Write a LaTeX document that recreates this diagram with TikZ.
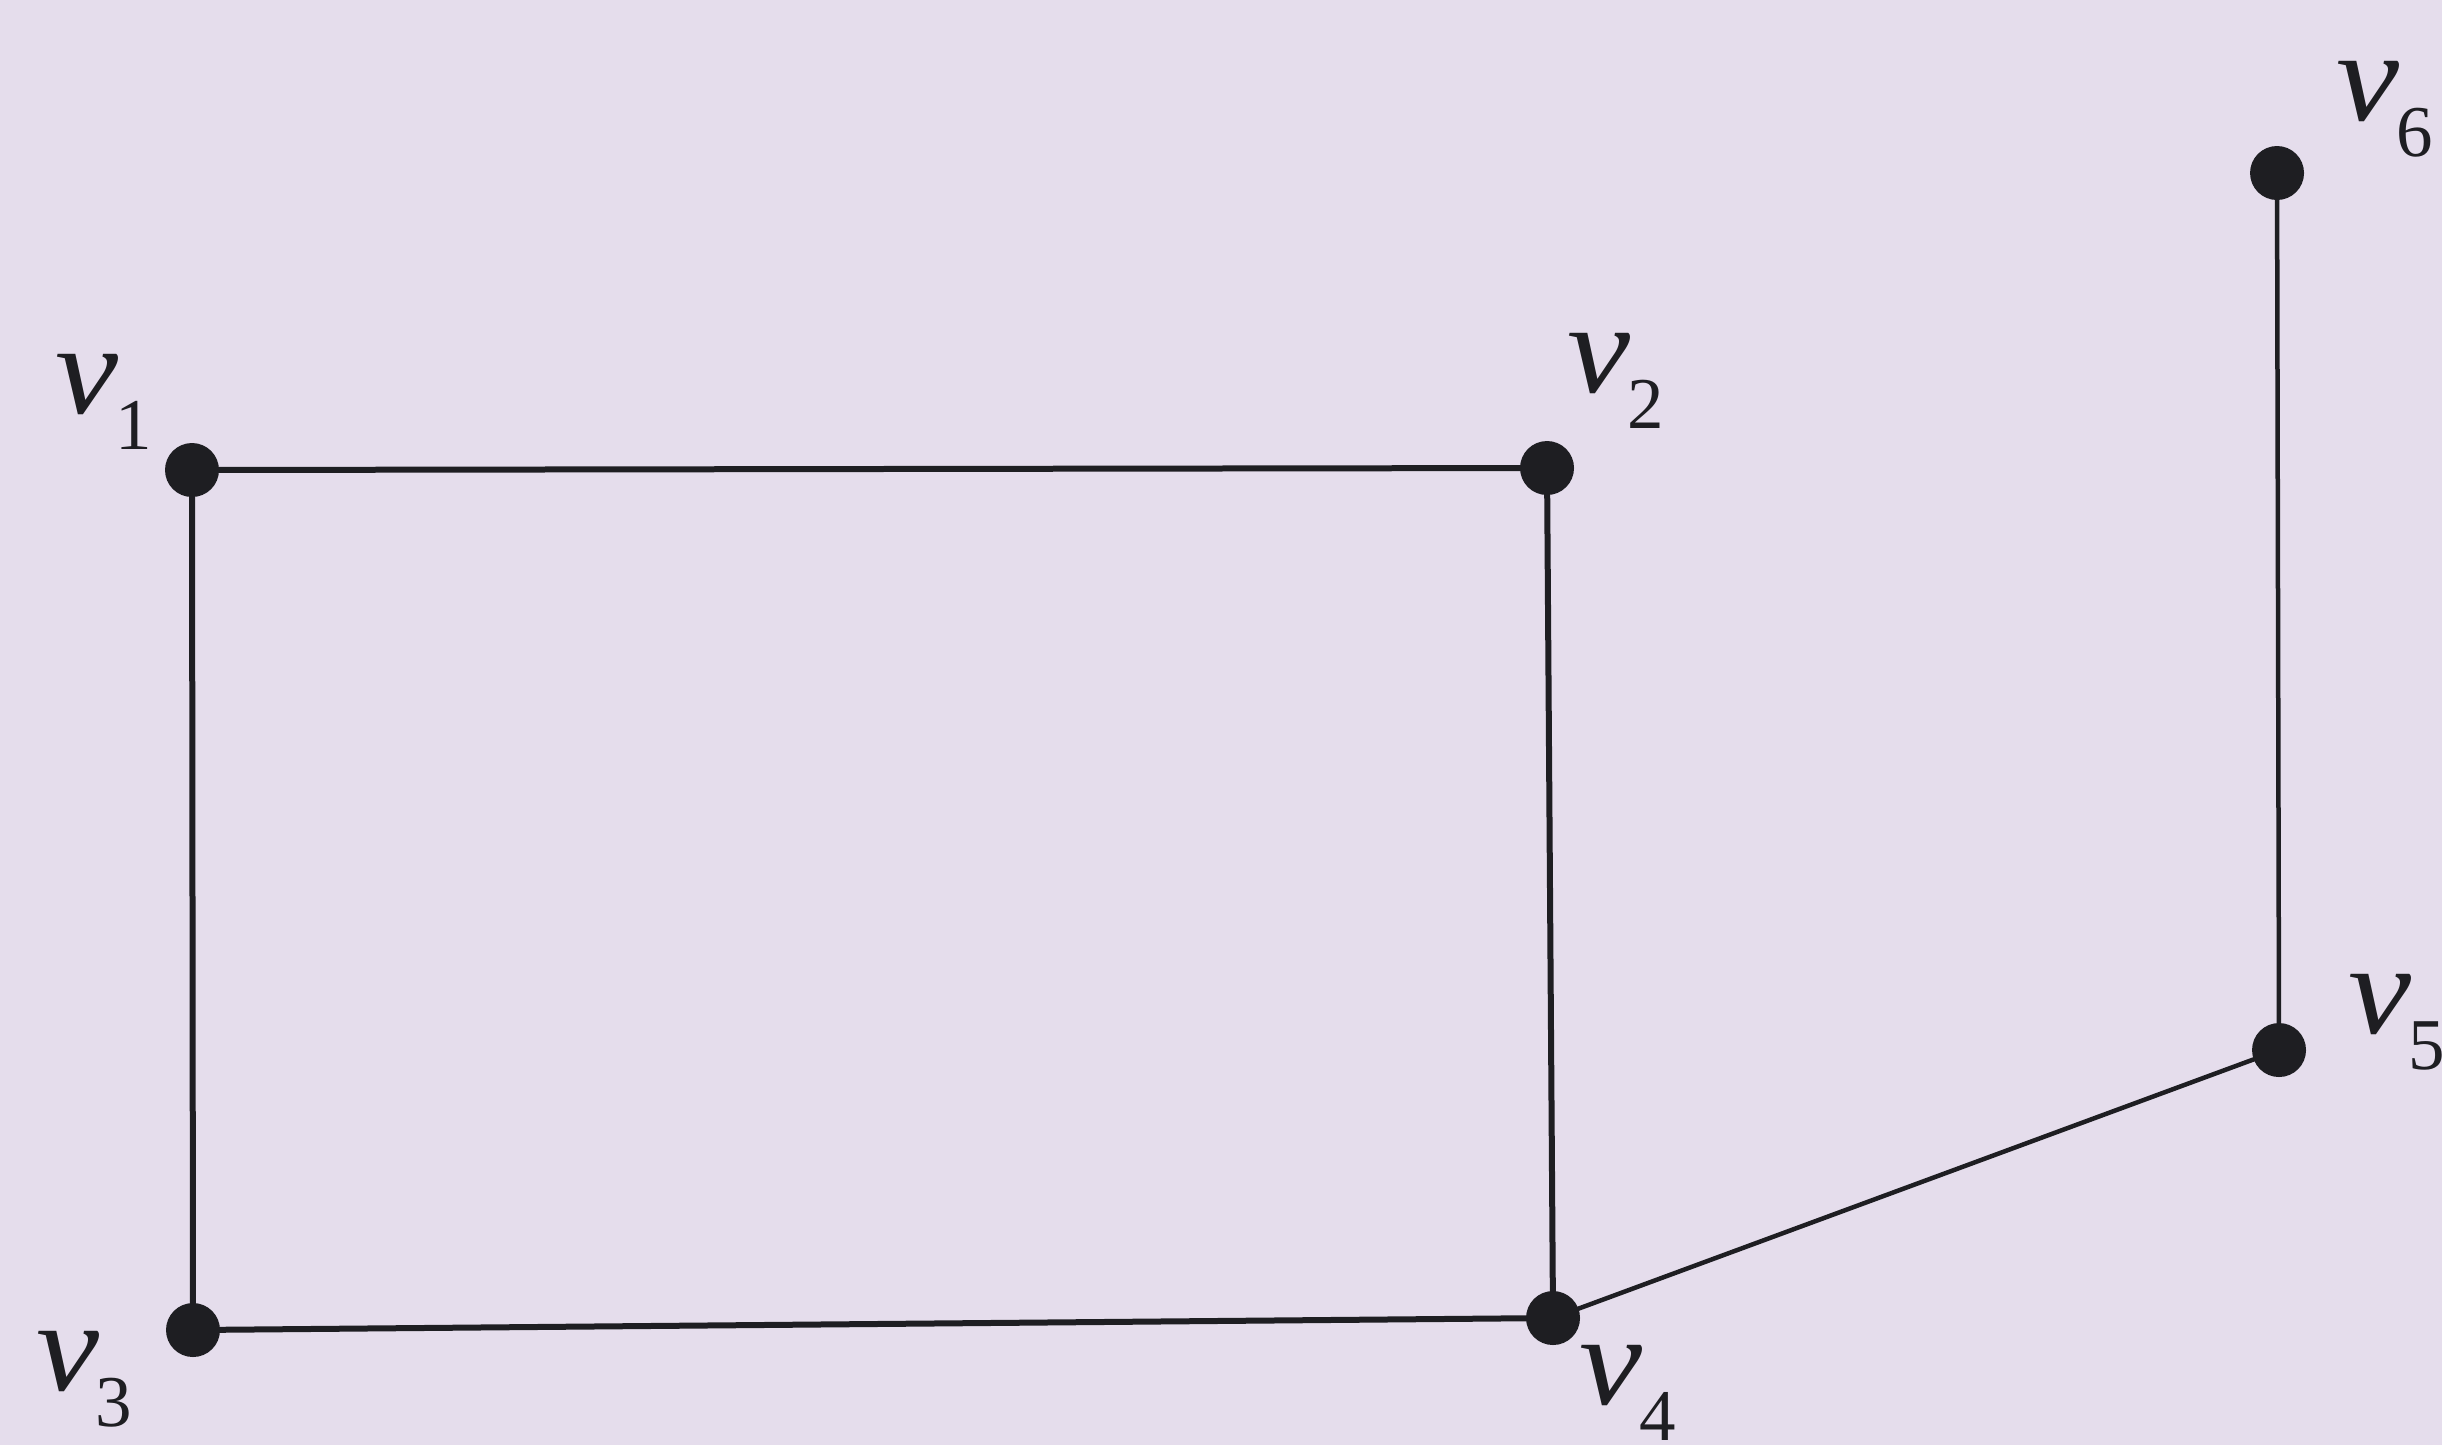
\documentclass[tikz,border=0pt]{standalone}
\usepackage{fontspec}
\setmainfont{Liberation Serif}
\usetikzlibrary{backgrounds}
\definecolor{paper}{RGB}{229,221,236}
\definecolor{ink}{RGB}{30,30,34}
\newcommand{\vlab}[1]{\scalebox{1.1}[1]{\fontsize{12.9}{14}\selectfont\itshape v}\kern-0.3pt\raisebox{-3.6pt}{\fontsize{7.3}{8}\selectfont #1}}
\begin{document}
\begin{tikzpicture}[x=0.1pt,y=-0.1pt,
  vtx/.style={circle,fill=ink,inner sep=0pt,minimum size=5.4pt},
  lab/.style={inner sep=0pt,anchor=base west,text=ink},
  edge/.style={draw=ink,line width=0.6pt},
  thinedge/.style={draw=ink,line width=0.45pt}]
\useasboundingbox (0,0) rectangle (2442,1445);
\node[vtx] (v1) at (192,470) {};
\node[vtx] (v2) at (1547,468) {};
\node[vtx] (v3) at (193,1330) {};
\node[vtx] (v4) at (1553,1318) {};
\node[vtx] (v5) at (2279,1050) {};
\node[vtx] (v6) at (2277,173) {};
\begin{scope}[on background layer]
\fill[paper] (0,0) rectangle (2442,1445);
\draw[edge] (v1.center) -- (v2.center);
\draw[edge] (v1.center) -- (v3.center);
\draw[edge] (v2.center) -- (v4.center);
\draw[edge] (v3.center) -- (v4.center);
\draw[thinedge] (v4.center) -- (v5.center);
\draw[thinedge] (v5.center) -- (v6.center);
\end{scope}
\node[lab] (l1) at (54,413) {\vlab{1}};
\node[lab] (l2) at (1565,392) {\vlab{2}};
\node[lab] (l3) at (34,1390) {\vlab{3}};
\node[lab] (l4) at (1577,1404) {\vlab{4}};
\node[lab] (l5) at (2346,1033) {\vlab{5}};
\node[lab] (l6) at (2334,120) {\vlab{6}};
\end{tikzpicture}
\end{document}
